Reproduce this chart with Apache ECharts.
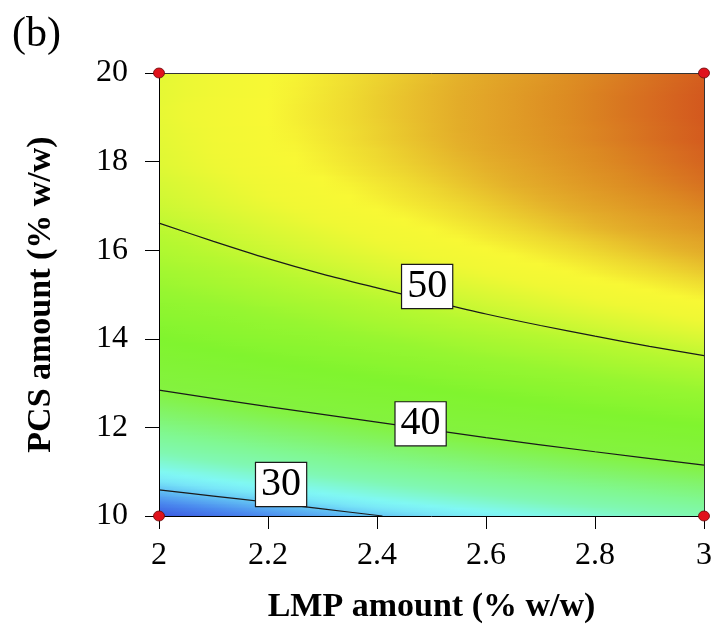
<!DOCTYPE html>
<html>
<head>
<meta charset="utf-8">
<script src="https://cdn.jsdelivr.net/npm/echarts@6/dist/echarts.min.js"></script>
<style>
  html, body { margin: 0; padding: 0; background: #fff; }
  #chart { width: 715px; height: 629px; }
</style>
</head>
<body>
<div id="chart"></div>
<script>
// LMP amount (% w/w) grid nodes
const lmp = [2, 2.2, 2.4, 2.6, 2.8, 3];
// PCS amount (% w/w) grid nodes
const pcs = [10, 10.25, 10.5, 10.75, 11, 11.25, 11.5, 11.75, 12, 12.25, 12.5, 12.75,
             13, 13.25, 13.5, 13.75, 14, 14.25, 14.5, 14.75, 15, 15.25, 15.5, 15.75,
             16, 16.25, 16.5, 16.75, 17, 17.25, 17.5, 17.75, 18, 18.25, 18.5, 18.75,
             19, 19.25, 19.5, 19.75, 20];
// predicted response, one row per PCS node, one column per LMP node
const response = [
  [26.9, 28.5, 30.0, 31.4, 32.8, 34.1],
  [28.2, 29.8, 31.4, 32.8, 34.2, 35.5],
  [29.5, 31.1, 32.7, 34.1, 35.5, 36.8],
  [30.8, 32.4, 33.9, 35.4, 36.7, 38.0],
  [32.0, 33.6, 35.2, 36.6, 38.0, 39.3],
  [33.2, 34.8, 36.4, 37.8, 39.2, 40.5],
  [34.4, 36.0, 37.5, 39.0, 40.3, 41.6],
  [35.5, 37.1, 38.7, 40.1, 41.5, 42.8],
  [36.6, 38.2, 39.7, 41.2, 42.6, 43.8],
  [37.7, 39.3, 40.8, 42.2, 43.6, 44.9],
  [38.7, 40.3, 41.8, 43.3, 44.6, 45.9],
  [39.7, 41.3, 42.8, 44.2, 45.6, 46.9],
  [40.6, 42.2, 43.7, 45.2, 46.5, 47.8],
  [41.5, 43.1, 44.6, 46.1, 47.4, 48.7],
  [42.4, 44.0, 45.5, 46.9, 48.3, 49.6],
  [43.2, 44.8, 46.3, 47.8, 49.1, 50.4],
  [44.0, 45.6, 47.1, 48.5, 49.9, 51.2],
  [44.7, 46.3, 47.9, 49.3, 50.7, 52.0],
  [45.4, 47.0, 48.6, 50.0, 51.4, 52.7],
  [46.1, 47.7, 49.2, 50.7, 52.1, 53.3],
  [46.8, 48.4, 49.9, 51.3, 52.7, 54.0],
  [47.4, 49.0, 50.5, 51.9, 53.3, 54.6],
  [47.9, 49.5, 51.1, 52.5, 53.9, 55.2],
  [48.5, 50.1, 51.6, 53.0, 54.4, 55.7],
  [49.0, 50.6, 52.1, 53.5, 54.9, 56.2],
  [49.4, 51.0, 52.5, 54.0, 55.3, 56.6],
  [49.8, 51.4, 52.9, 54.4, 55.8, 57.1],
  [50.2, 51.8, 53.3, 54.8, 56.1, 57.4],
  [50.6, 52.2, 53.7, 55.1, 56.5, 57.8],
  [50.9, 52.5, 54.0, 55.4, 56.8, 58.1],
  [51.1, 52.7, 54.2, 55.7, 57.1, 58.4],
  [51.4, 53.0, 54.5, 55.9, 57.3, 58.6],
  [51.6, 53.2, 54.7, 56.1, 57.5, 58.8],
  [51.7, 53.3, 54.8, 56.3, 57.6, 58.9],
  [51.8, 53.4, 55.0, 56.4, 57.8, 59.1],
  [51.9, 53.5, 55.0, 56.5, 57.8, 59.1],
  [52.0, 53.6, 55.1, 56.5, 57.9, 59.2],
  [52.0, 53.6, 55.1, 56.5, 57.9, 59.2],
  [51.9, 53.5, 55.1, 56.5, 57.9, 59.2],
  [51.9, 53.5, 55.0, 56.4, 57.8, 59.1],
  [51.8, 53.4, 54.9, 56.3, 57.7, 59.0]
];

// contour levels and their traced paths [LMP, PCS]
const contourLevels = [50, 40, 30];
const contour50 = [[2, 16.61], [2.1, 16.20], [2.2, 15.81], [2.3, 15.46], [2.4, 15.15], [2.5, 14.85],
                   [2.6, 14.56], [2.7, 14.30], [2.8, 14.06], [2.9, 13.83], [3, 13.62]];
const contour40 = [[2, 12.84], [2.2, 12.47], [2.4, 12.12], [2.6, 11.77], [2.8, 11.45], [3, 11.15]];
const contour30 = [[2, 10.59], [2.1, 10.45], [2.2, 10.31], [2.3, 10.16], [2.41, 10.0]];

// factorial design points
const designPoints = [[2, 10], [2, 20], [3, 10], [3, 20]];

// axis ticks
const xTicks = [2, 2.2, 2.4, 2.6, 2.8, 3];
const yTicks = [10, 12, 14, 16, 18, 20];

// where each contour value tag sits
const contourTagAt = [[2.492, 15.18], [2.480, 12.08], [2.224, 10.71]];

// colour ramp: response value -> colour
const ramp = [
  [26.9, '#3a58e0'], [28.5, '#4a88ee'], [30, '#62c2f4'], [31, '#78e6f8'], [32, '#80f8f4'],
  [34, '#80f8b4'], [36, '#80f892'], [38, '#82f46a'], [40, '#84f240'], [44, '#80f42e'],
  [47, '#96f630'], [49.5, '#b6f830'], [51, '#d4f834'], [52.5, '#f0f834'], [53.6, '#f8f834'],
  [54.8, '#eed830'], [56, '#e4b02a'], [57.6, '#dc8a22'], [59.2, '#d3581e']
];

function hexToRgb(h) {
  return [parseInt(h.slice(1, 3), 16), parseInt(h.slice(3, 5), 16), parseInt(h.slice(5, 7), 16)];
}
function colorAt(v) {
  if (v <= ramp[0][0]) return ramp[0][1];
  for (let k = 1; k < ramp.length; k++) {
    if (v <= ramp[k][0]) {
      const t = (v - ramp[k - 1][0]) / (ramp[k][0] - ramp[k - 1][0]);
      const a = hexToRgb(ramp[k - 1][1]), b = hexToRgb(ramp[k][1]);
      const c = a.map((x, i) => Math.round(x + (b[i] - x) * t));
      return 'rgb(' + c.join(',') + ')';
    }
  }
  return ramp[ramp.length - 1][1];
}

const serif = 'Liberation Serif';
const xMin = xTicks[0], xMax = xTicks[xTicks.length - 1];
const yMin = yTicks[0], yMax = yTicks[yTicks.length - 1];

// shading resolution inside each grid cell
const STRIPS = 8;
const SUBSTOPS = 4;

const chart = echarts.init(document.getElementById('chart'), null, { renderer: 'canvas' });

function contourSeries(path) {
  return {
    type: 'line',
    data: path,
    smooth: 0.3,
    symbol: 'none',
    silent: true,
    clip: true,
    z: 3,
    lineStyle: { color: '#1a1a1a', width: 1.2 }
  };
}

// one strip of a grid cell, shaded left to right across the LMP nodes
function stripFill(rowA, rowB, t) {
  const span = lmp[lmp.length - 1] - lmp[0];
  const stops = [];
  for (let j = 0; j < lmp.length; j++) {
    const vj = rowA[j] + (rowB[j] - rowA[j]) * t;
    stops.push({ offset: (lmp[j] - lmp[0]) / span, color: colorAt(vj) });
    if (j < lmp.length - 1) {
      const vn = rowA[j + 1] + (rowB[j + 1] - rowA[j + 1]) * t;
      for (let s = 1; s < SUBSTOPS; s++) {
        const f = s / SUBSTOPS;
        stops.push({
          offset: (lmp[j] + (lmp[j + 1] - lmp[j]) * f - lmp[0]) / span,
          color: colorAt(vj + (vn - vj) * f)
        });
      }
    }
  }
  return new echarts.graphic.LinearGradient(0, 0, 1, 0, stops);
}

chart.setOption({
  animation: false,
  backgroundColor: '#fff',
  grid: { left: 159, right: 9, top: 73, bottom: 107, containLabel: false },
  graphic: [{
    type: 'text', left: 12, top: 14,
    style: { text: '(b)', font: '42px "Liberation Serif"', fill: '#000' }
  }],
  xAxis: [{
    type: 'value', min: xMin, max: xMax, interval: 0.2, position: 'bottom', z: 10,
    axisLine: { show: true, onZero: false, lineStyle: { color: '#000', width: 1 } },
    axisTick: { show: true, inside: false, length: 13, lineStyle: { color: '#000', width: 1 } },
    axisLabel: { margin: 24, color: '#000', fontFamily: serif, fontSize: 32 },
    splitLine: { show: false },
    name: 'LMP amount (% w/w)', nameLocation: 'middle', nameGap: 74,
    nameTextStyle: { color: '#000', fontFamily: serif, fontSize: 34, fontWeight: 'bold' }
  }, {
    type: 'value', min: xMin, max: xMax, position: 'top', z: 10,
    axisLine: { show: true, onZero: false, lineStyle: { color: '#333', width: 1 } },
    axisTick: { show: false }, axisLabel: { show: false }, splitLine: { show: false }
  }],
  yAxis: [{
    type: 'value', min: yMin, max: yMax, interval: 2, position: 'left', z: 10,
    axisLine: { show: true, onZero: false, lineStyle: { color: '#000', width: 1 } },
    axisTick: { show: true, inside: false, length: 14, lineStyle: { color: '#000', width: 1 } },
    axisLabel: { margin: 31, color: '#000', fontFamily: serif, fontSize: 32 },
    splitLine: { show: false },
    name: 'PCS amount (% w/w)', nameLocation: 'middle', nameGap: 101, nameRotate: 90,
    nameTextStyle: { color: '#000', fontFamily: serif, fontSize: 34, fontWeight: 'bold' }
  }, {
    type: 'value', min: yMin, max: yMax, position: 'right', z: 10,
    axisLine: { show: true, onZero: false, lineStyle: { color: '#333', width: 1 } },
    axisTick: { show: false }, axisLabel: { show: false }, splitLine: { show: false }
  }],
  series: [
    {
      // response surface: one item per cell between neighbouring PCS nodes
      type: 'custom',
      coordinateSystem: 'cartesian2d',
      xAxisIndex: 0, yAxisIndex: 0,
      data: pcs.slice(0, -1).map((y, i) => [lmp[0], y, i]),
      encode: { x: 0, y: 1 },
      clip: true,
      silent: true,
      z: 1,
      renderItem: function (params, api) {
        const i = api.value(2);
        const lo = api.coord([lmp[0], pcs[i]]);
        const hi = api.coord([lmp[lmp.length - 1], pcs[i + 1]]);
        const h = (lo[1] - hi[1]) / STRIPS;
        const children = [];
        for (let s = 0; s < STRIPS; s++) {
          const t = (s + 0.5) / STRIPS;
          const yBottom = lo[1] - s * h;
          children.push({
            type: 'rect',
            shape: { x: lo[0], y: yBottom - h - 0.4, width: hi[0] - lo[0], height: h + 0.8 },
            style: { fill: stripFill(response[i], response[i + 1], t) }
          });
        }
        return { type: 'group', children: children };
      }
    },
    contourSeries(contour50),
    contourSeries(contour40),
    contourSeries(contour30),
    {
      // value tags on the contour lines
      type: 'scatter',
      data: contourTagAt.map((p, k) => ({ value: p, name: String(contourLevels[k]) })),
      symbolSize: 0,
      silent: true,
      z: 5,
      itemStyle: { opacity: 1 },
      label: {
        show: true, position: 'inside', formatter: '{b}',
        color: '#000', fontFamily: serif, fontSize: 40, lineHeight: 40,
        backgroundColor: '#fff', borderColor: '#1a1a1a', borderWidth: 1.2,
        padding: [2, 5, 1, 5], opacity: 1
      }
    },
    {
      type: 'scatter',
      data: designPoints,
      symbol: 'circle',
      symbolSize: [11, 10],
      clip: false,
      silent: true,
      z: 20,
      itemStyle: { color: '#e0121c', borderColor: '#6a0a0a', borderWidth: 0.8, opacity: 1 }
    }
  ]
});
</script>
</body>
</html>
